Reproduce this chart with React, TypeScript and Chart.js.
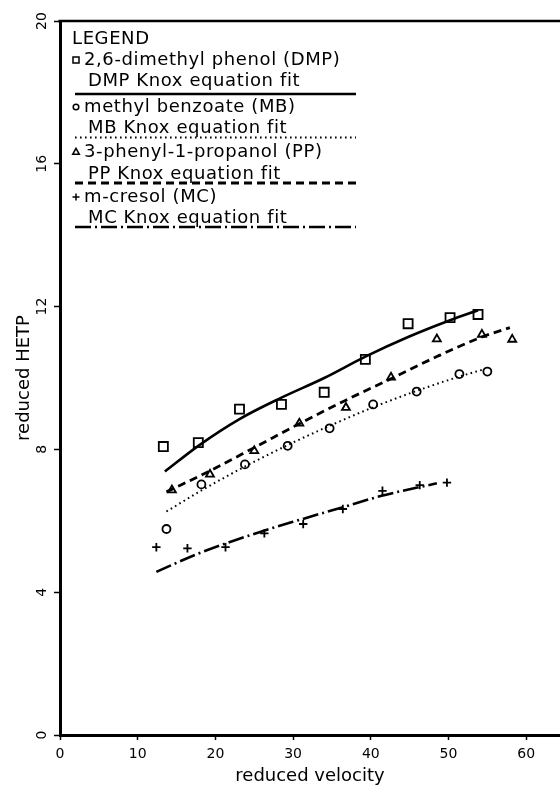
import React, { useEffect, useRef } from 'react';
import { Chart, registerables } from 'chart.js';
Chart.register(...registerables);

const xTickValues = [0, 10, 20, 30, 40, 50, 60];
const yTickValues = [0, 4, 8, 12, 16, 20];
const xAxisTitle = 'reduced velocity';
const yAxisTitle = 'reduced HETP';

// 2,6-dimethyl phenol (DMP)
const dmpX = [13.3, 17.8, 23.1, 28.5, 34.0, 39.3, 44.8, 50.2, 53.8];
const dmpY = [8.08, 8.19, 9.13, 9.26, 9.6, 10.52, 11.52, 11.69, 11.78];
const dmpFitX = [13.5, 17.8, 23.1, 28.5, 34.0, 39.3, 44.8, 50.2, 53.8];
const dmpFitY = [7.38, 8.1, 8.85, 9.45, 10.0, 10.6, 11.15, 11.62, 11.9];

// methyl benzoate (MB)
const mbX = [13.7, 18.2, 23.8, 29.3, 34.7, 40.3, 45.9, 51.4, 55.0];
const mbY = [5.77, 7.02, 7.58, 8.1, 8.59, 9.26, 9.62, 10.11, 10.18];
const mbFitX = [13.7, 18.2, 23.8, 29.3, 34.7, 40.3, 45.9, 51.4, 54.5];
const mbFitY = [6.26, 6.85, 7.52, 8.12, 8.66, 9.18, 9.64, 10.04, 10.24];

// 3-phenyl-1-propanol (PP)
const ppX = [14.4, 19.3, 25.0, 30.8, 36.8, 42.6, 48.5, 54.3, 58.2];
const ppY = [6.86, 7.3, 7.96, 8.73, 9.17, 10.02, 11.09, 11.22, 11.08];
const ppFitX = [13.7, 19.3, 25.0, 30.8, 36.8, 42.6, 48.5, 54.3, 57.9];
const ppFitY = [6.81, 7.4, 8.05, 8.72, 9.38, 9.98, 10.6, 11.15, 11.41];

// m-cresol (MC)
const mcX = [12.4, 16.4, 21.3, 26.3, 31.3, 36.4, 41.5, 46.3, 49.8];
const mcY = [5.26, 5.23, 5.26, 5.65, 5.91, 6.33, 6.84, 7.0, 7.07];
const mcFitX = [12.4, 18.0, 24.5, 30.9, 36.4, 41.4, 48.5];
const mcFitY = [4.57, 5.1, 5.6, 6.03, 6.38, 6.7, 7.05];

const legendTitle = 'LEGEND';
const seriesLabels = [
  '2,6-dimethyl phenol (DMP)',
  'methyl benzoate (MB)',
  '3-phenyl-1-propanol (PP)',
  'm-cresol (MC)',
];
const fitLabels = [
  'DMP Knox equation fit',
  'MB Knox equation fit',
  'PP Knox equation fit',
  'MC Knox equation fit',
];
const markerStyles = ['rect', 'circle', 'triangle', 'cross'];
const dashStyles: number[][] = [[], [1.6, 3.4], [8, 5], [16, 4, 2, 4]];
const fitWidths = [2.6, 2, 2.8, 2.6];

const pts = (xs: number[], ys: number[]) => xs.map((x, i) => ({ x, y: ys[i] }));

const FONT = '"DejaVu Sans", sans-serif';

function drawMarker(ctx: CanvasRenderingContext2D, style: string, x: number, y: number, s: number) {
  ctx.beginPath();
  if (style === 'rect') {
    ctx.rect(x - s, y - s, 2 * s, 2 * s);
  } else if (style === 'circle') {
    ctx.arc(x, y, s, 0, Math.PI * 2);
  } else if (style === 'triangle') {
    ctx.moveTo(x, y - s * 1.1);
    ctx.lineTo(x + s, y + s * 0.7);
    ctx.lineTo(x - s, y + s * 0.7);
    ctx.closePath();
  } else {
    ctx.moveTo(x - s, y);
    ctx.lineTo(x + s, y);
    ctx.moveTo(x, y - s);
    ctx.lineTo(x, y + s);
  }
  ctx.stroke();
}

const decorPlugin = {
  id: 'decor',
  afterDraw(chart: any) {
    const ctx: CanvasRenderingContext2D = chart.ctx;
    const { left, right, top, bottom } = chart.chartArea;
    ctx.save();
    ctx.strokeStyle = '#000';
    ctx.fillStyle = '#000';
    // top frame line
    ctx.lineWidth = 2.5;
    ctx.beginPath();
    ctx.moveTo(left - 1.5, top);
    ctx.lineTo(right, top);
    ctx.stroke();

    // y tick labels (rotated)
    const ys = chart.scales.y;
    ctx.font = '14px ' + FONT;
    ctx.textAlign = 'center';
    ctx.textBaseline = 'middle';
    yTickValues.forEach((v) => {
      const py = ys.getPixelForValue(v);
      ctx.save();
      ctx.translate(left - 18, py);
      ctx.rotate(-Math.PI / 2);
      ctx.fillText(String(v), 0, 0);
      ctx.restore();
    });

    // axis titles
    ctx.font = '18px ' + FONT;
    ctx.save();
    ctx.translate(left - 36, (top + bottom) / 2);
    ctx.rotate(-Math.PI / 2);
    ctx.fillText(yAxisTitle, 0, 0);
    ctx.restore();
    ctx.fillText(xAxisTitle, (left + right) / 2, 776);

    // legend
    (ctx as any).letterSpacing = '0.6px';
    ctx.font = '18px ' + FONT;
    ctx.textAlign = 'left';
    ctx.fillText(legendTitle, left + 12, 39);
    const entryY = [60, 107, 152, 197];
    const fitY = [81, 128, 174, 218];
    const lineY = [94, 137.5, 183, 227];
    const lineEnd = 356;
    for (let i = 0; i < 4; i++) {
      ctx.lineWidth = 1.5;
      ctx.setLineDash([]);
      const ms = i === 0 ? 3 : i === 1 ? 2.8 : i === 2 ? 3.3 : 3.5;
      drawMarker(ctx, markerStyles[i], left + 16, entryY[i], ms);
      ctx.fillText(seriesLabels[i], left + 24, entryY[i]);
      ctx.fillText(fitLabels[i], left + 28, fitY[i]);
      ctx.lineWidth = fitWidths[i];
      ctx.setLineDash(dashStyles[i]);
      ctx.beginPath();
      ctx.moveTo(left + 15, lineY[i]);
      ctx.lineTo(lineEnd, lineY[i]);
      ctx.stroke();
    }
    ctx.restore();
  },
};

export default function App() {
  const ref = useRef<HTMLCanvasElement>(null);
  useEffect(() => {
    if (!ref.current) return;
    const scatterDs = (data: any[], style: string, radius: number) => ({
      type: 'scatter' as const,
      data,
      showLine: false,
      pointStyle: style,
      pointRadius: radius,
      pointBorderWidth: 1.8,
      pointBorderColor: '#000',
      pointBackgroundColor: 'rgba(0,0,0,0)',
      borderColor: '#000',
    });
    const fitDs = (data: any[], i: number) => ({
      type: 'line' as const,
      data,
      showLine: true,
      pointRadius: 0,
      borderColor: '#000',
      borderWidth: fitWidths[i],
      borderDash: dashStyles[i],
      cubicInterpolationMode: 'monotone',
      fill: false,
    });
    const chart = new Chart(ref.current, {
      type: 'scatter',
      data: {
        datasets: [
          scatterDs(pts(dmpX, dmpY), 'rect', 6.4),
          fitDs(pts(dmpFitX, dmpFitY), 0),
          scatterDs(pts(mbX, mbY), 'circle', 4),
          fitDs(pts(mbFitX, mbFitY), 1),
          scatterDs(pts(ppX, ppY), 'triangle', 4.6),
          fitDs(pts(ppFitX, ppFitY), 2),
          scatterDs(pts(mcX, mcY), 'cross', 4.2),
          fitDs(pts(mcFitX, mcFitY), 3),
        ] as any,
      },
      options: {
        responsive: false,
        animation: false,
        devicePixelRatio: 1,
        layout: { autoPadding: false, padding: { top: 21, right: 0, left: 0, bottom: 0 } },
        plugins: { legend: { display: false }, tooltip: { enabled: false } },
        scales: {
          x: {
            type: 'linear',
            min: 0,
            max: 64.35,
            afterFit: (s: any) => { s.height = 51; s.paddingRight = 0; s.paddingLeft = 0; },
            afterBuildTicks: (s: any) => { s.ticks = xTickValues.map((v) => ({ value: v })); },
            ticks: { color: '#000', font: { family: FONT, size: 14 }, padding: 6, maxRotation: 0, includeBounds: false },
            grid: { drawOnChartArea: false, drawTicks: true, tickLength: 5, tickWidth: 1.5, color: '#000' },
            border: { display: true, color: '#000', width: 3 },
          },
          y: {
            type: 'linear',
            min: 0,
            max: 20,
            afterFit: (s: any) => { s.width = 60; s.paddingTop = 0; s.paddingBottom = 0; },
            afterBuildTicks: (s: any) => { s.ticks = yTickValues.map((v) => ({ value: v })); },
            ticks: { display: false },
            grid: { drawOnChartArea: false, drawTicks: true, tickLength: 6, tickWidth: 1.5, color: '#000' },
            border: { display: true, color: '#000', width: 3 },
          },
        },
      } as any,
      plugins: [decorPlugin],
    });
    return () => chart.destroy();
  }, []);
  return (
    <div style={{ position: 'absolute', left: 0, top: 0, width: 560, height: 786, background: '#fff' }}>
      <canvas ref={ref} width={560} height={786} />
    </div>
  );
}
